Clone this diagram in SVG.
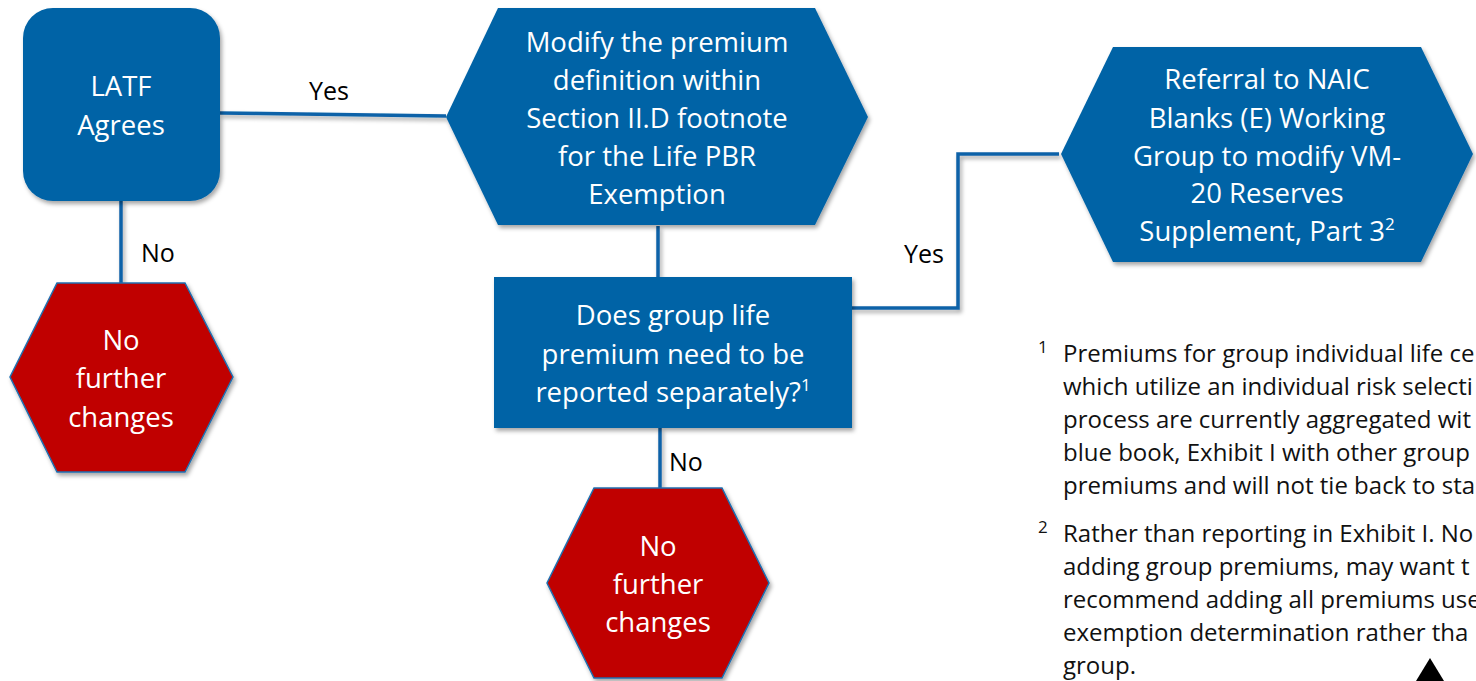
<svg xmlns="http://www.w3.org/2000/svg" width="1476" height="681" viewBox="0 0 1476 681">
<defs>
<filter id="sh" x="-10%" y="-10%" width="125%" height="130%">
<feDropShadow dx="2" dy="3" stdDeviation="2" flood-color="#000" flood-opacity="0.35"/>
</filter>
<style>
.blue{fill:#0563A6;}
.red{fill:#C00000;stroke:#1F6FB0;stroke-width:1.5;}
.nt{font-family:"Open Sans","Noto Sans",sans-serif;font-size:27.5px;fill:#fff;text-anchor:middle;}
.lbl{font-family:"Open Sans","Noto Sans",sans-serif;font-size:25px;fill:#000;}
.fn{font-family:"Open Sans","Noto Sans",sans-serif;font-size:24px;fill:#111;}
.sup{font-size:17px;}
.con{fill:none;stroke:#0B62A8;stroke-width:3.5;}
</style>
</defs>
<g id="connectors" filter="url(#sh)">
<path class="con" d="M220 113 L446 116"/>
<path class="con" d="M121 200 L121 283"/>
<path class="con" d="M658 226 L658 277"/>
<path class="con" d="M660 428 L660 488"/>
<path class="con" d="M852 308 L958 308 L958 154 L1059 154"/>
</g>
<g id="labels">
<text class="lbl" x="309" y="100">Yes</text>
<text class="lbl" x="141" y="262">No</text>
<text class="lbl" x="904" y="263">Yes</text>
<text class="lbl" x="669" y="471">No</text>
</g>
<g id="latf">
<rect class="blue" x="23" y="8" width="197" height="193" rx="30" filter="url(#sh)"/>
<text class="nt" x="121" y="96">LATF</text>
<text class="nt" x="121" y="135">Agrees</text>
</g>
<g id="modify">
<polygon class="blue" points="498,8 815,8 868,117 815,225 498,225 446,117" filter="url(#sh)"/>
<text class="nt" x="657" y="52">Modify the premium</text>
<text class="nt" x="657" y="90">definition within</text>
<text class="nt" x="657" y="128">Section II.D footnote</text>
<text class="nt" x="657" y="166">for the Life PBR</text>
<text class="nt" x="657" y="204">Exemption</text>
</g>
<g id="nochange1">
<polygon class="red" points="57,283 185,283 233,377 185,472 57,472 10,377" filter="url(#sh)"/>
<text class="nt" x="121" y="350">No</text>
<text class="nt" x="121" y="388">further</text>
<text class="nt" x="121" y="427">changes</text>
</g>
<g id="decision">
<rect class="blue" x="494" y="277" width="358" height="151" filter="url(#sh)"/>
<text class="nt" x="673" y="325">Does group life</text>
<text class="nt" x="673" y="364">premium need to be</text>
<text class="nt" x="673" y="402">reported separately?<tspan class="sup" dy="-11">1</tspan></text>
</g>
<g id="nochange2">
<polygon class="red" points="594,488 722,488 769,583 722,678 594,678 547,583" filter="url(#sh)"/>
<text class="nt" x="658" y="556">No</text>
<text class="nt" x="658" y="594">further</text>
<text class="nt" x="658" y="632">changes</text>
</g>
<g id="referral">
<polygon class="blue" points="1113,47 1421,47 1473,154 1421,262 1113,262 1061,154" filter="url(#sh)"/>
<text class="nt" x="1267" y="89">Referral to NAIC</text>
<text class="nt" x="1267" y="128">Blanks (E) Working</text>
<text class="nt" x="1267" y="166">Group to modify VM-</text>
<text class="nt" x="1267" y="203">20 Reserves</text>
<text class="nt" x="1267" y="241">Supplement, Part 3<tspan class="sup" dy="-11">2</tspan></text>
</g>
<g id="footnotes">
<text class="fn sup" x="1038" y="353">1</text>
<text class="fn" x="1063" y="362">Premiums for group individual life ce</text>
<text class="fn" x="1063" y="395">which utilize an individual risk selecti</text>
<text class="fn" x="1063" y="428">process are currently aggregated wit</text>
<text class="fn" x="1063" y="461">blue book, Exhibit I with other group</text>
<text class="fn" x="1063" y="494">premiums and will not tie back to sta</text>
<text class="fn sup" x="1038" y="533">2</text>
<text class="fn" x="1063" y="542">Rather than reporting in Exhibit I.  No</text>
<text class="fn" x="1063" y="575">adding group premiums, may want t</text>
<text class="fn" x="1063" y="608">recommend adding all premiums use</text>
<text class="fn" x="1063" y="641">exemption determination rather tha</text>
<text class="fn" x="1063" y="674">group.</text>
</g>
<polygon id="marker-triangle" points="1416,681 1430,658 1444,681" fill="#000"/>
</svg>
